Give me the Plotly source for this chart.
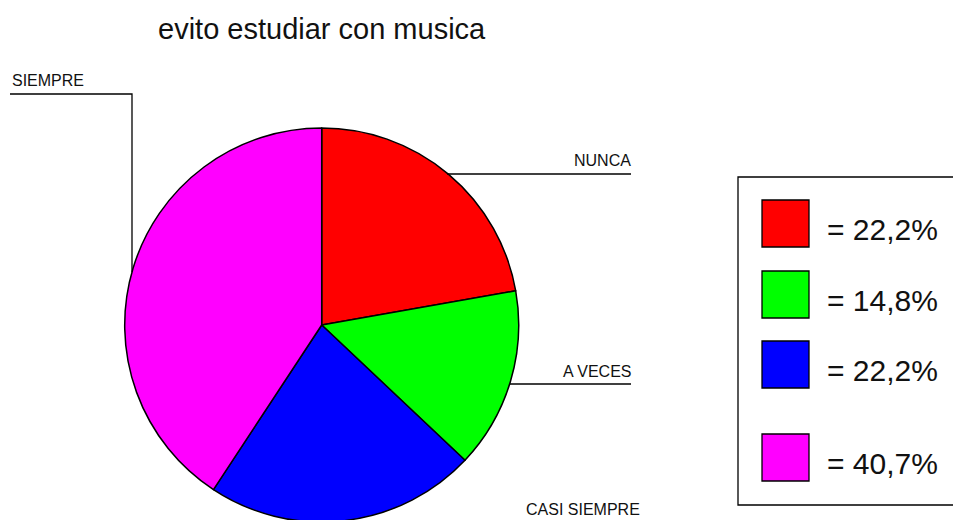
"""Pie chart: evito estudiar con musica."""

import plotly.graph_objects as go

W, H = 961, 520
OFFSET = 8  # default body margin of the html page

categories = ["NUNCA", "A VECES", "CASI SIEMPRE", "SIEMPRE"]
percent = [22.2, 14.8, 22.2, 40.7]
legend_text = ["= 22,2%", "= 14,8%", "= 22,2%", "= 40,7%"]
colors = ["#ff0000", "#00ff00", "#0000ff", "#ff00ff"]
title = "evito estudiar con musica"

FONT = "Liberation Sans, Arial, sans-serif"


def px(x):
    return (x - OFFSET) / W


def py(y):
    return 1 - (y - OFFSET) / H


fig = go.Figure()
fig.add_pie(
    labels=categories,
    values=percent,
    sort=False,
    direction="clockwise",
    rotation=0,
    textinfo="none",
    hoverinfo="label+percent",
    showlegend=False,
    marker=dict(colors=colors, line=dict(color="black", width=1.5)),
    domain=dict(x=[px(124.7), px(518.7)], y=[py(522), py(128)]),
)

# slice labels with leader lines (page pixel positions)
label_pos = {
    "NUNCA": (633, 160.5, "right"),
    "A VECES": (633, 371.5, "right"),
    "CASI SIEMPRE": (642, 509.5, "right"),
    "SIEMPRE": (10, 81, "left"),
}
annotations = []
for name in categories:
    x, y, anchor = label_pos[name]
    annotations.append(dict(
        x=px(x), y=py(y), xref="paper", yref="paper", text=name,
        showarrow=False, xanchor=anchor, yanchor="middle",
        font=dict(family=FONT, size=16, color="#111"),
    ))

leaders = [
    [(447, 174), (631, 174)],
    [(510, 384), (631, 384)],
    [(10, 94), (132, 94), (132, 272)],
]
shapes = []
for pts in leaders:
    path = "M " + " L ".join(f"{px(a):.5f},{py(b):.5f}" for a, b in pts)
    shapes.append(dict(type="path", xref="paper", yref="paper", path=path,
                       line=dict(color="black", width=1.3)))

# hand-drawn legend box
shapes.append(dict(type="rect", xref="paper", yref="paper",
                   x0=px(738), x1=px(975), y0=py(505), y1=py(177),
                   line=dict(color="black", width=1.3), fillcolor="white", layer="below"))
square_top = [200, 271, 341, 434]
for top, color, text in zip(square_top, colors, legend_text):
    shapes.append(dict(type="rect", xref="paper", yref="paper",
                       x0=px(762), x1=px(809), y0=py(top + 47), y1=py(top),
                       line=dict(color="black", width=1.3), fillcolor=color))
    annotations.append(dict(
        x=px(825), y=py(top + 29), xref="paper", yref="paper", text=text,
        showarrow=False, xanchor="left", yanchor="middle",
        font=dict(family=FONT, size=30, color="#111"),
    ))

annotations.append(dict(
    x=px(322), y=py(29), xref="paper", yref="paper", text=title,
    showarrow=False, xanchor="center", yanchor="middle",
    font=dict(family=FONT, size=29, color="#111"),
))

fig.update_layout(
    width=W,
    height=H,
    margin=dict(l=0, r=0, t=0, b=0),
    paper_bgcolor="white",
    plot_bgcolor="white",
    annotations=annotations,
    shapes=shapes,
)
fig.write_html("out.html")
